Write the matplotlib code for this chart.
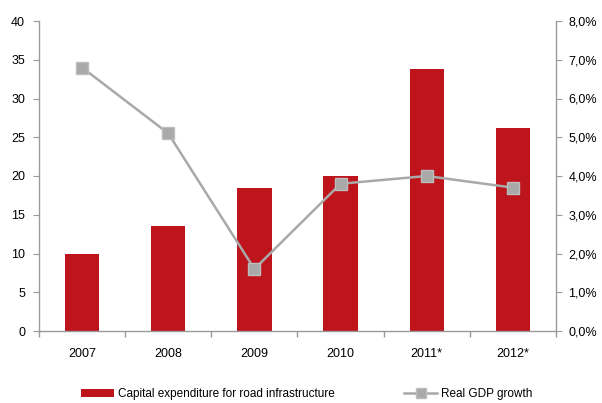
import matplotlib
matplotlib.use("Agg")
import matplotlib.pyplot as plt
from matplotlib.ticker import FuncFormatter, MultipleLocator
from matplotlib.lines import Line2D
from matplotlib.patches import Patch

years = ["2007", "2008", "2009", "2010", "2011*", "2012*"]
capex = [10.0, 13.5, 18.5, 20.0, 33.8, 26.2]
gdp_growth = [6.8, 5.1, 1.6, 3.8, 4.0, 3.7]

plt.rcParams['font.family'] = ['Liberation Sans', 'DejaVu Sans']

RED = "#be141c"
GREY = "#a9a9a9"
AXIS = "#9a9a9a"

fig = plt.figure(figsize=(6.02, 4.03), dpi=100)
ax = fig.add_axes([39/602, 72/403, 517/602, 310/403])
ax2 = ax.twinx()

x = list(range(len(years)))
ax.bar(x, capex, width=0.40, color=RED, zorder=2)
ax2.plot(x, gdp_growth, color=GREY, lw=1.8, marker="s", ms=8.5,
         markerfacecolor=GREY, markeredgecolor="#bdbdbd", zorder=3)

ax.set_xlim(-0.5, len(years) - 0.5)
ax.set_ylim(0, 40)
ax.yaxis.set_major_locator(MultipleLocator(5))
ax2.set_ylim(0, 8)
ax2.yaxis.set_major_locator(MultipleLocator(1))
ax2.yaxis.set_major_formatter(FuncFormatter(lambda v, p: f"{v:.1f}%".replace(".", ",")))

ax.set_xticks(x)
ax.set_xticklabels(years)
ax.set_xticks([i + 0.5 for i in range(-1, len(years))], minor=True)
ax.tick_params(axis="x", which="major", length=0, pad=12, labelsize=9)
ax.tick_params(axis="x", which="minor", length=4, color=AXIS, width=1)
ax.tick_params(axis="y", length=4, color=AXIS, labelsize=9, pad=6)
ax2.tick_params(axis="y", length=4, color=AXIS, labelsize=9, pad=5)

for a in (ax, ax2):
    a.spines["top"].set_visible(False)
    for s in ("left", "right", "bottom"):
        a.spines[s].set_color(AXIS)
        a.spines[s].set_linewidth(1)
ax2.spines["left"].set_visible(False)
ax2.spines["bottom"].set_visible(False)
ax.spines["right"].set_visible(False)

handles = [Patch(facecolor=RED, edgecolor="none"),
           Line2D([0], [0], color=GREY, lw=1.8, marker="s", ms=7,
                  markerfacecolor=GREY, markeredgecolor="#bdbdbd")]
labels = ["Capital expenditure for road infrastructure", "Real GDP growth"]
fig.legend(handles, labels, loc="center", bbox_to_anchor=(306.5/602, 9/403),
           ncol=2, frameon=False, fontsize=8.5, handlelength=2.8,
           handleheight=0.75, columnspacing=5.9, handletextpad=0.3)

fig.savefig("out.png", dpi=100)
